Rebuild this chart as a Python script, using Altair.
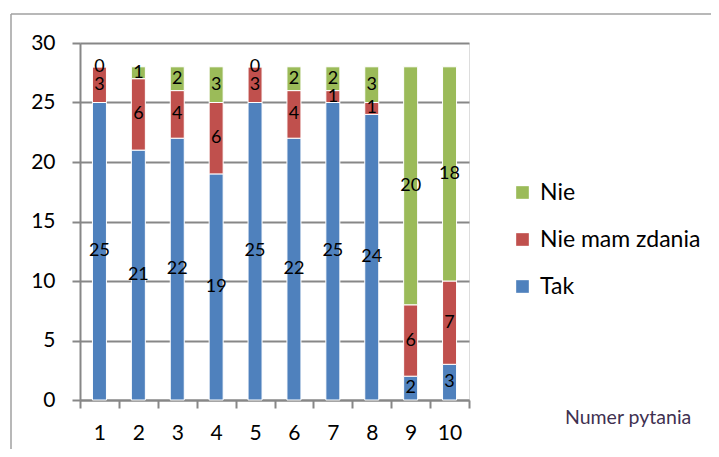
import altair as alt
import pandas as pd

questions = ["1", "2", "3", "4", "5", "6", "7", "8", "9", "10"]
tak = [25, 21, 22, 19, 25, 22, 25, 24, 2, 3]
nie_mam_zdania = [3, 6, 4, 6, 3, 4, 1, 1, 6, 7]
nie = [0, 1, 2, 3, 0, 2, 2, 3, 20, 18]
series = ["Tak", "Nie mam zdania", "Nie"]
legend_order = ["Nie", "Nie mam zdania", "Tak"]
colors = ["#9BBB59", "#C0504D", "#4F81BD"]
y_ticks = [0, 5, 10, 15, 20, 25, 30]
x_title = "Numer pytania"

rows = []
for i, q in enumerate(questions):
    for o, (name, vals) in enumerate(zip(series, [tak, nie_mam_zdania, nie])):
        rows.append({"q": q, "s": name, "v": vals[i], "o": o})
df = pd.DataFrame(rows)

FONT = "Lato"
GRAY = "#878787"

x_enc = alt.X("q:N", sort=questions, title=None,
              scale=alt.Scale(paddingInner=0, paddingOuter=0),
              axis=alt.Axis(labelAngle=0, labelFontSize=21, labelFont=FONT, labelColor="black",
                            tickBand="extent", tickSize=8, tickColor=GRAY, tickWidth=2,
                            domainColor=GRAY, domainWidth=2, labelPadding=14, grid=False))

base = alt.Chart(df)

bars = base.mark_bar(size=14, stroke="white", strokeWidth=1).encode(
    x=x_enc,
    y=alt.Y("v:Q", stack="zero", title=None,
            scale=alt.Scale(domain=[0, 30], nice=False),
            axis=alt.Axis(values=y_ticks, labelFontSize=21, labelFont=FONT, labelColor="black",
                          tickSize=8, tickColor=GRAY, tickWidth=2, domainColor=GRAY, domainWidth=2,
                          gridColor=GRAY, gridWidth=2, labelPadding=17)),
    color=alt.Color("s:N", scale=alt.Scale(domain=legend_order, range=colors),
                    legend=alt.Legend(title=None, orient="none", legendX=431, legendY=138,
                                      labelFontSize=23, labelFont=FONT, labelColor="black",
                                      labelLimit=400,
                                      symbolType="square", symbolSize=160, symbolStrokeWidth=0,
                                      rowPadding=23, labelOffset=6)),
    order=alt.Order("o:Q", sort="ascending"),
)

labels = base.transform_stack(
    stack="v", groupby=["q"], sort=[alt.SortField("o", order="ascending")], as_=["y0", "y1"]
).transform_calculate(mid="(datum.y0 + datum.y1) / 2").mark_text(
    fontSize=18, font=FONT, color="black", baseline="middle"
).encode(
    x=alt.X("q:N", sort=questions),
    y=alt.Y("mid:Q"),
    text="v:Q",
)

one = pd.DataFrame({"t": [x_title]})
title_txt = alt.Chart(one).mark_text(fontSize=19.5, font=FONT, color="#3F3151", align="left",
                                     baseline="middle").encode(
    x=alt.value(485), y=alt.value(375), text="t:N")

border_left = alt.Chart(one).mark_rule(color="#A0A0A0", strokeWidth=1.5).encode(
    x=alt.value(-69), y=alt.value(-29), y2=alt.value(450))
border_top = alt.Chart(one).mark_rule(color="#A0A0A0", strokeWidth=1.5).encode(
    x=alt.value(-69), x2=alt.value(700), y=alt.value(-29))

chart = alt.layer(bars, labels, title_txt, border_left, border_top).properties(
    width=389, height=357,
    autosize=alt.AutoSizeParams(type="none"),
    padding={"left": 72, "top": 35, "right": 242, "bottom": 49},
).configure_view(stroke=None).configure(background="white")

chart.save("out.html", embed_options={"renderer": "svg", "actions": False})
